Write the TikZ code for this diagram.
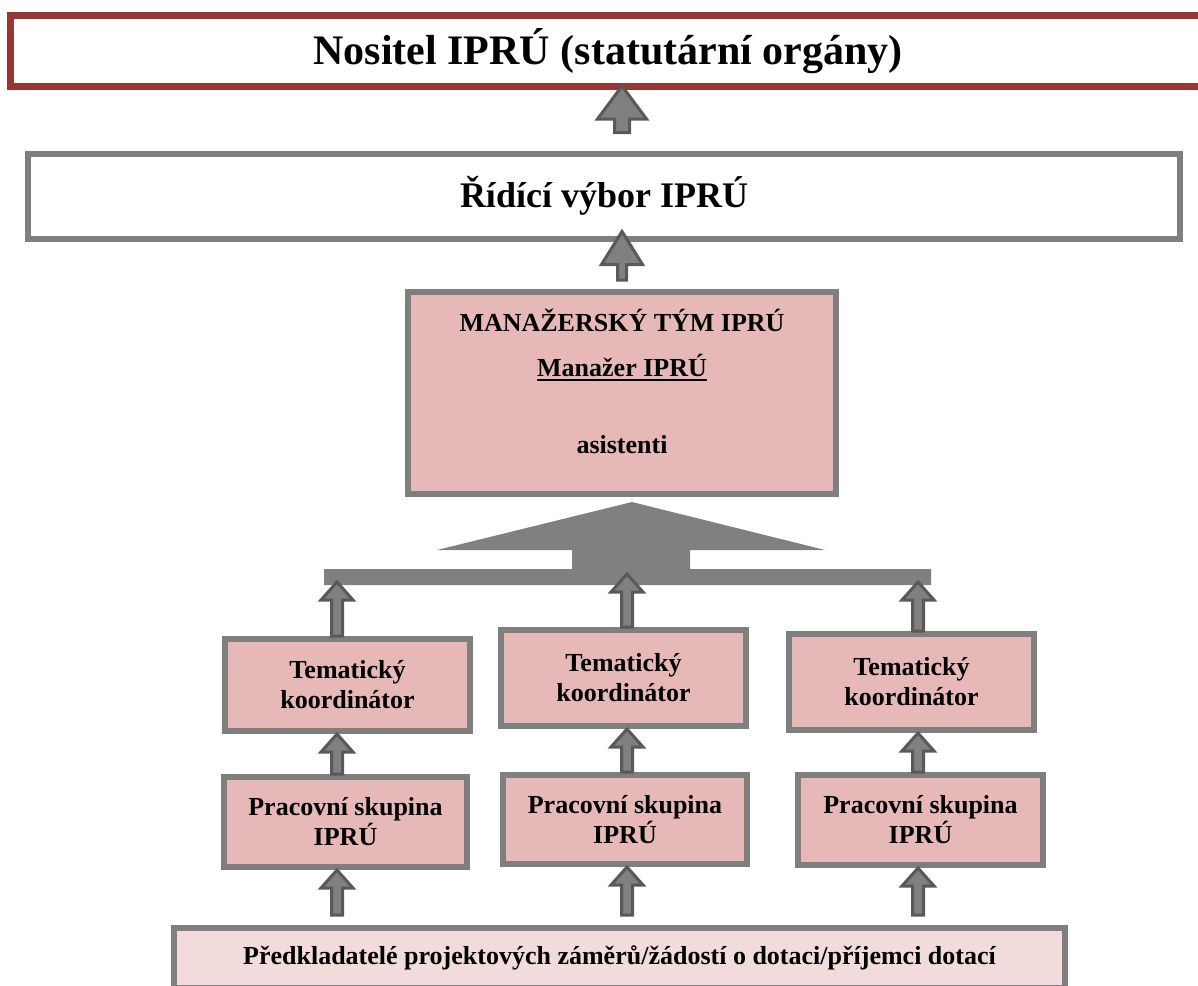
\documentclass[tikz,border=0pt]{standalone}
\usepackage{fontspec}
\setmainfont{Liberation Serif}
\usetikzlibrary{calc}
\definecolor{ownerred}{HTML}{953735}
\definecolor{framegray}{HTML}{7F7F7F}
\definecolor{teampink}{HTML}{E6B8B7}
\definecolor{basepink}{HTML}{F2DCDB}
\definecolor{arrowgray}{HTML}{808080}
\definecolor{arrowedge}{HTML}{595959}
\newcommand{\blockup}[5]{%
\draw[blockarrow] let \p1=#1, \p2=#2 in
  (\x2-#3,\y1) -- (\x2-#3,\y2-#5) -- (\x2-#4,\y2-#5) -- (\x2,\y2)
  -- (\x2+#4,\y2-#5) -- (\x2+#3,\y2-#5) -- (\x2+#3,\y1) -- cycle;}
\newcommand{\ulbold}[1]{\setbox0\hbox{#1}\rlap{\rule[-5pt]{\wd0}{2pt}}\box0}
\begin{document}
\begin{tikzpicture}[x=1pt,y=-1pt,
  frame/.style={draw=framegray,line width=6pt,fill=teampink,align=center,inner sep=0pt,
    font=\bfseries\fontsize{26}{30}\selectfont},
  blockarrow/.style={fill=arrowgray,draw=arrowedge,line width=3pt,line join=miter}]
\useasboundingbox (0,0) rectangle (1198,985);

\node[draw=ownerred,line width=7pt,minimum width=1195pt,minimum height=71pt,
  font=\bfseries\fontsize{42}{48}\selectfont] (nositel) at (608,51) {Nositel IPRÚ (statutární orgány)};
\node[frame,fill=white,minimum width=1152pt,minimum height=85pt,
  font=\bfseries\fontsize{36}{42}\selectfont] (ridici) at (604,196) {Řídící výbor IPRÚ};
\node[frame,minimum width=428pt,minimum height=202pt,text depth=24pt] (manaz) at (622,393)
  {MANAŽERSKÝ TÝM IPRÚ\\[15pt]\ulbold{Manažer IPRÚ}\\[47pt]asistenti};

\node[frame,minimum width=245pt,minimum height=92pt] (tk1) at (347.5,685) {Tematický\\koordinátor};
\node[frame,minimum width=245pt,minimum height=96pt] (tk2) at (623.5,678) {Tematický\\koordinátor};
\node[frame,minimum width=245pt,minimum height=96pt] (tk3) at (911.5,682) {Tematický\\koordinátor};

\node[frame,minimum width=243pt,minimum height=90pt] (ps1) at (345.5,822) {Pracovní skupina\\IPRÚ};
\node[frame,minimum width=244pt,minimum height=89pt] (ps2) at (625,819.5) {Pracovní skupina\\IPRÚ};
\node[frame,minimum width=245pt,minimum height=90pt] (ps3) at (920.5,820) {Pracovní skupina\\IPRÚ};

\node[frame,fill=basepink,minimum width=891pt,minimum height=60pt] (pred) at (619.5,958)
  {Předkladatelé projektových záměrů/žádostí o dotaci/příjemci dotací};

\fill[arrowgray] (632,502) -- (825,550) -- (690,550) -- (690,569) -- (931,569) -- (931,585)
  -- (324,585) -- (324,569) -- (572,569) -- (572,550) -- (437,550) -- cycle;
\coordinate (b1) at (337,582);
\coordinate (b2) at (627,574);
\coordinate (b3) at (918,582);

\blockup{([yshift=18pt]ridici.north -| manaz.north)}{([yshift=4pt]nositel.south -| manaz.north)}{7.5pt}{24.5pt}{33pt}
\blockup{([yshift=9pt]manaz.north)}{([yshift=10pt]ridici.south -| manaz.north)}{4.5pt}{20.5pt}{33pt}
\foreach \i in {1,2,3} {
  \blockup{(tk\i.north -| b\i)}{(b\i)}{5.5pt}{16pt}{18pt}
  \blockup{(ps\i.north -| b\i)}{(tk\i.south -| b\i)}{5.5pt}{16pt}{18pt}
  \blockup{([yshift=10pt]pred.north -| b\i)}{(ps\i.south -| b\i)}{5.5pt}{16pt}{18pt}
}
\end{tikzpicture}
\end{document}
